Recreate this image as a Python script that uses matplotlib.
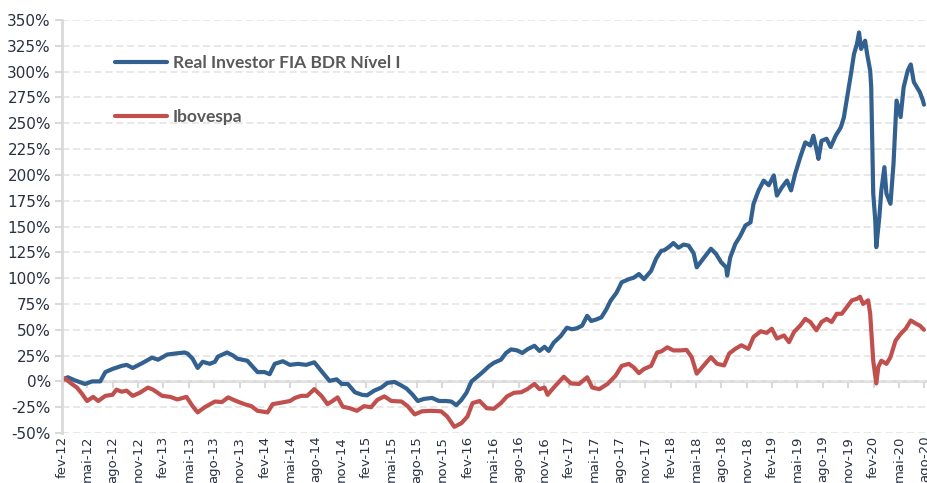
import matplotlib.pyplot as plt

# Cumulative return (%), dates as decimal years
fund_name = "Real Investor FIA BDR Nível I"
fund_t = [2012.08, 2012.14, 2012.21, 2012.31, 2012.38, 2012.46, 2012.51, 2012.58, 2012.67, 2012.72,
          2012.78, 2012.87, 2012.97, 2013.03, 2013.12, 2013.20, 2013.29, 2013.32, 2013.37, 2013.42,
          2013.47, 2013.54, 2013.59, 2013.62, 2013.71, 2013.77, 2013.81, 2013.91, 2014.01, 2014.08,
          2014.13, 2014.18, 2014.26, 2014.33, 2014.41, 2014.49, 2014.57, 2014.64, 2014.72, 2014.79,
          2014.84, 2014.90, 2014.97, 2015.04, 2015.09, 2015.16, 2015.23, 2015.29, 2015.36, 2015.41,
          2015.48, 2015.54, 2015.59, 2015.65, 2015.73, 2015.80, 2015.87, 2015.92, 2015.97, 2016.02,
          2016.07, 2016.12, 2016.17, 2016.23, 2016.29, 2016.34, 2016.41, 2016.46, 2016.51, 2016.57,
          2016.62, 2016.67, 2016.74, 2016.79, 2016.84, 2016.88, 2016.93, 2017.00, 2017.06, 2017.11,
          2017.16, 2017.21, 2017.26, 2017.30, 2017.35, 2017.40, 2017.45, 2017.49, 2017.55, 2017.60,
          2017.67, 2017.72, 2017.77, 2017.82, 2017.89, 2017.94, 2017.99, 2018.02, 2018.07, 2018.11,
          2018.16, 2018.21, 2018.26, 2018.31, 2018.34, 2018.39, 2018.48, 2018.53, 2018.58, 2018.63,
          2018.64, 2018.67, 2018.72, 2018.77, 2018.82, 2018.87, 2018.90, 2018.95, 2019.00, 2019.05,
          2019.10, 2019.13, 2019.18, 2019.23, 2019.27, 2019.31, 2019.36, 2019.41, 2019.46, 2019.49,
          2019.52, 2019.54, 2019.57, 2019.62, 2019.66, 2019.71, 2019.76, 2019.79, 2019.82, 2019.86,
          2019.89, 2019.92, 2019.94, 2019.96, 2020.00, 2020.02, 2020.05, 2020.06, 2020.08, 2020.10,
          2020.11, 2020.14, 2020.16, 2020.19, 2020.21, 2020.25, 2020.28, 2020.31, 2020.35, 2020.38,
          2020.42, 2020.45, 2020.48, 2020.51, 2020.54, 2020.57, 2020.58]
fund_v = [1, 4, 1, -2.5, 0, 0, 9, 12, 15, 16,
          13, 17.5, 23, 21, 26, 27, 28, 27, 22, 13,
          19, 17, 19, 24, 28, 25, 22, 20, 9, 9,
          7, 17, 19.5, 16, 17, 16, 18.5, 10, 0.5, 2,
          -2.5, -2.5, -10.5, -13, -13.5, -9, -6, -1.5, -0.5, -3,
          -7, -13, -19, -17, -16, -19, -19, -19.5, -23, -18,
          -11, 0, 4, 9, 14.5, 18, 21, 27.5, 31, 30,
          27.5, 31, 34.5, 29.5, 33.5, 29.5, 37.5, 44, 52, 50.5,
          51.5, 54, 63.5, 58.5, 60, 62, 70, 78, 86, 96,
          99, 100.5, 104, 99, 107, 119, 126.5, 127, 130.5, 134,
          129.5, 132.5, 131.5, 124, 110.5, 117, 128.5, 123.5, 115.5, 110.5,
          102.5, 120, 133, 141, 151, 154, 172, 185, 194.5, 190,
          199.5, 180, 188, 194.5, 185, 201, 217, 231.5, 228.5, 238,
          225, 215.5, 233, 235, 227, 238, 246, 255.5, 273.5, 297.5,
          317, 327, 338, 322, 330, 317, 301, 285, 182, 156,
          130, 159, 185, 207.5, 182, 172, 211, 272, 256, 285,
          301, 307, 290, 285, 280, 272, 268]

index_name = "Ibovespa"
index_t = [2012.08, 2012.11, 2012.18, 2012.23, 2012.28, 2012.33, 2012.39, 2012.44, 2012.51, 2012.58,
           2012.62, 2012.67, 2012.72, 2012.78, 2012.85, 2012.93, 2012.98, 2013.07, 2013.15, 2013.22,
           2013.31, 2013.37, 2013.42, 2013.49, 2013.59, 2013.66, 2013.72, 2013.80, 2013.88, 2013.95,
           2014.01, 2014.11, 2014.16, 2014.25, 2014.33, 2014.38, 2014.44, 2014.50, 2014.57, 2014.64,
           2014.70, 2014.75, 2014.80, 2014.85, 2014.92, 2014.99, 2015.06, 2015.13, 2015.19, 2015.26,
           2015.33, 2015.43, 2015.49, 2015.56, 2015.63, 2015.72, 2015.82, 2015.88, 2015.95, 2016.02,
           2016.08, 2016.13, 2016.20, 2016.27, 2016.34, 2016.41, 2016.47, 2016.54, 2016.61, 2016.67,
           2016.74, 2016.79, 2016.84, 2016.87, 2016.93, 2017.03, 2017.10, 2017.18, 2017.26, 2017.31,
           2017.38, 2017.46, 2017.54, 2017.60, 2017.67, 2017.72, 2017.77, 2017.82, 2017.89, 2017.95,
           2017.99, 2018.05, 2018.11, 2018.18, 2018.24, 2018.29, 2018.34, 2018.41, 2018.48, 2018.54,
           2018.61, 2018.66, 2018.72, 2018.78, 2018.85, 2018.90, 2018.97, 2019.03, 2019.08, 2019.13,
           2019.20, 2019.25, 2019.30, 2019.36, 2019.41, 2019.46, 2019.52, 2019.57, 2019.62, 2019.67,
           2019.72, 2019.77, 2019.82, 2019.87, 2019.92, 2019.95, 2019.98, 2020.03, 2020.05, 2020.08,
           2020.11, 2020.13, 2020.16, 2020.21, 2020.25, 2020.30, 2020.35, 2020.40, 2020.45, 2020.50,
           2020.54, 2020.58]
index_v = [0.5, 3, -2.5, -6, -12, -19, -15, -19, -14, -13,
           -8, -10, -9, -14, -11, -6, -8, -14, -15, -17.5,
           -15, -24, -30, -25, -19.5, -20, -15.5, -19, -22, -24,
           -28.5, -30, -22, -20.5, -19, -16, -14, -14, -7.5, -14,
           -22, -19, -15.5, -24.5, -26, -28.5, -24, -25, -18, -14.5,
           -19, -19.5, -24, -32, -29, -28.5, -29, -34, -44, -40.5,
           -34, -21, -19, -26, -26.5, -21, -14.5, -11, -10.5, -7.5,
           -2.5, -7.5, -6, -13, -6, 4.5, -2, -2.5, 4, -6,
           -7.5, -2.5, 5.5, 15, 17, 13.5, 8, 12, 15, 28,
           29, 33, 30, 30, 30.5, 23.5, 7.5, 15.5, 23.5, 17,
           15.5, 27, 31.5, 35, 31.5, 43, 48.5, 47, 51, 41.5,
           44.5, 38, 48, 54, 60.5, 57.5, 49.5, 57.5, 60.5, 57.5,
           65.5, 65.5, 72, 78.5, 80, 82, 75, 78.5, 65.5, 20,
           -2, 14, 20, 17, 23.5, 39.5, 46, 51, 59, 56,
           54, 50]

# quarterly tick labels
tick_months = ["fev", "mai", "ago", "nov"]
tick_years = list(range(2012, 2021))
month_num = {"fev": 2, "mai": 5, "ago": 8, "nov": 11}

y_ticks = list(range(-50, 351, 25))

fund_color = "#32608f"
index_color = "#c0504d"
axis_gray = "#d9d9d9"
label_color = "#2a3142"

fig = plt.figure(figsize=(9.27, 4.83), dpi=100)
ax = fig.add_axes([0.0669, 0.1035, 0.932, 0.855])

ax.plot(fund_t, fund_v, color=fund_color, lw=3, label=fund_name, solid_capstyle="round")
ax.plot(index_t, index_v, color=index_color, lw=3, label=index_name, solid_capstyle="round")

ax.set_ylim(-50, 350)
ax.set_xlim(2012.083, 2020.60)
ax.set_yticks(y_ticks)
ax.set_yticklabels([f"{v}%" for v in y_ticks], fontsize=11, color=label_color)
ax.yaxis.grid(True, color="#e6e6e6", linestyle=(0, (4, 2)), linewidth=1.3)
ax.set_axisbelow(True)

# x ticks every quarter, fev-12 .. ago-20
xpos, xlab = [], []
for yr in tick_years:
    for m in tick_months:
        t = yr + (month_num[m] - 1) / 12
        if t <= 2020.6:
            xpos.append(t)
            xlab.append(f"{m}-{str(yr)[2:]}")
ax.set_xticks(xpos)
ax.set_xticklabels(xlab, rotation=90, fontsize=9.5, color=label_color, va="top")
ax.tick_params(axis="x", length=0, pad=2)
ax.tick_params(axis="y", length=5, width=1.5, color=axis_gray, pad=3)

for s in ["top", "right", "bottom"]:
    ax.spines[s].set_visible(False)
ax.spines["left"].set_color(axis_gray)
ax.spines["left"].set_linewidth(2)

# the 0% axis line with its tick marks
zero_ax = ax.secondary_xaxis(50 / 400)
zero_ax.set_xticks(xpos)
zero_ax.set_xticklabels([])
zero_ax.tick_params(axis="x", length=5, width=1.5, color=axis_gray, direction="out")
zero_ax.spines["bottom"].set_color(axis_gray)
zero_ax.spines["bottom"].set_linewidth(2)

leg = ax.legend(loc="upper left", bbox_to_anchor=(0.061, 0.916), frameon=False,
                prop={"family": "Lato", "weight": "bold", "size": 12.5},
                handlelength=3.0, handletextpad=0.35, labelspacing=2.2,
                borderpad=0, borderaxespad=0)
for txt in leg.get_texts():
    txt.set_color("#595959")

fig.savefig("out.png", dpi=100)
